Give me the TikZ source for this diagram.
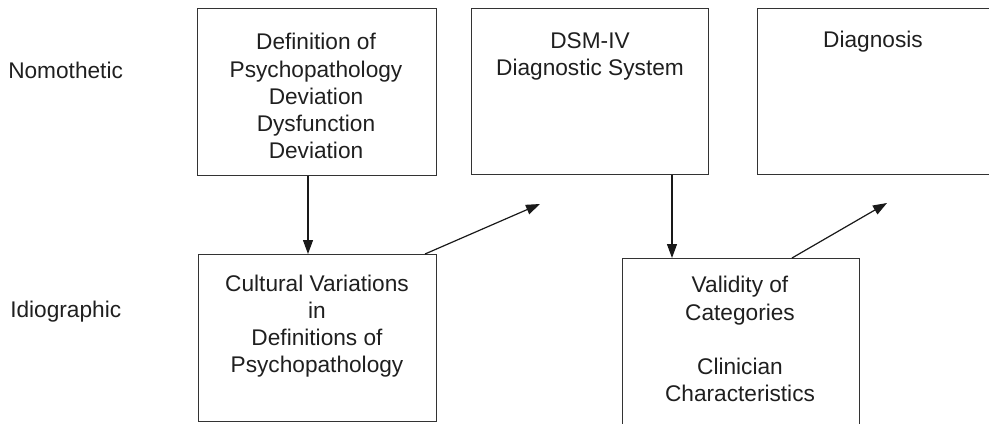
\documentclass[tikz,border=0pt]{standalone}
\usepackage{fontspec}
\setmainfont{Liberation Sans}
\usetikzlibrary{arrows.meta}

\tikzset{
  panel/.style={draw=black!80, line width=0.9pt, rectangle, inner sep=0pt, anchor=north west},
  caption/.style={align=center, inner sep=0pt, text=black!88,
    font=\fontsize{17}{20.3}\selectfont},
  rowlabel/.style={anchor=west, inner sep=0pt, text=black!88,
    font=\fontsize{17}{20.3}\selectfont},
  link/.style={draw=black!90, line width=0.9pt,
    -{Triangle[length=10.5pt,width=7.5pt]}}
}

\begin{document}
\begin{tikzpicture}[x=0.75pt, y=-0.75pt]
  \useasboundingbox (0,0) rectangle (989,424);
  \clip (0,0) rectangle (989,424);

  % row labels
  \node[rowlabel] (nomo) at (8,70) {Nomothetic};
  \node[rowlabel] (idio) at (10,312) {Idiographic};

  % top row
  \node[panel, minimum width=179.25pt, minimum height=125.25pt] (def) at (197,8) {};
  \node[panel, minimum width=177.75pt, minimum height=124.5pt] (dsm) at (471,8) {};
  \node[panel, minimum width=175.5pt, minimum height=124.5pt] (diag) at (757,8) {};

  % bottom row
  \node[panel, minimum width=178.5pt, minimum height=125.25pt] (cult) at (198,254) {};
  \node[panel, minimum width=177.75pt, minimum height=150pt] (valid) at (622,258) {};

  % box texts
  \node[caption] (tdef) at (316,96) {Definition of\\Psychopathology\\Deviation\\Dysfunction\\Deviation};
  \node[caption] (tdsm) at (590,56) {DSM-IV\\Diagnostic System};
  \node[caption] (tdiag) at (873,42) {Diagnosis};
  \node[caption] (tcult) at (317,326) {Cultural Variations\\in\\Definitions of\\Psychopathology};
  \node[caption] (tvalid) at (740,339) {Validity of\\Categories\\[20.3pt]Clinician\\Characteristics};

  % connector positions
  \coordinate (xa) at (308,0);
  \coordinate (xb) at (425,0);
  \coordinate (xc) at (672,0);
  \coordinate (xd) at (792,0);
  \coordinate (endb) at (540,204);
  \coordinate (endd) at (887,203);

  % connectors
  \draw[link] (def.south -| xa) -- (cult.north -| xa);
  \draw[link] (cult.north -| xb) -- (endb);
  \draw[link] (dsm.south -| xc) -- (valid.north -| xc);
  \draw[link] (valid.north -| xd) -- (endd);
\end{tikzpicture}
\end{document}
